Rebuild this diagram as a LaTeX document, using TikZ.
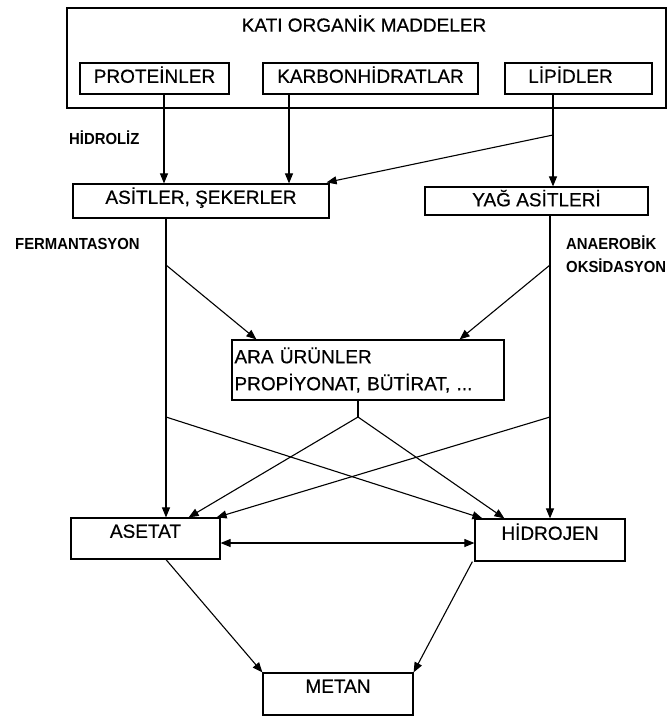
\documentclass[tikz,border=0pt]{standalone}
\usepackage{fontspec}
\setmainfont{Liberation Sans}[FakeBold=0.5,BoldFont={Liberation Sans Bold}]
\newfontfamily\lblfont{Liberation Sans Bold}[FakeStretch=0.93]
\usetikzlibrary{arrows.meta,calc}
\begin{document}
\begin{tikzpicture}[x=1pt,y=-1pt,
  box/.style={draw,line width=1.2pt,rectangle,inner sep=0pt,font=\fontsize{19}{22}\selectfont,text height=13.6pt},
  lbl/.style={inner sep=0pt,font=\lblfont\fontsize{16}{23}\selectfont,align=left},
  arr/.style={line width=1.1pt,-{Triangle[length=10pt,width=8pt]}},
  arrb/.style={line width=1.1pt,{Triangle[length=10pt,width=8pt]}-{Triangle[length=10pt,width=8pt]}},
  ln/.style={line width=1.1pt}]
\useasboundingbox (0,0) rectangle (672,716);
% boxes
\node[box,minimum width=599pt,minimum height=100pt] (outer) at (366.5,58) {};
\node[font=\fontsize{19}{22}\selectfont,inner sep=0pt] (title) at (364,23.5) {KATI ORGANİK MADDELER};
\node[box,minimum width=149pt,minimum height=31pt,text depth=5pt] (prot) at (154.5,78.5) {PROTEİNLER};
\node[box,minimum width=215pt,minimum height=31pt,text depth=5pt] (karb) at (370.5,78.5) {KARBONHİDRATLAR};
\node[box,minimum width=147pt,minimum height=31pt,text depth=5pt] (lip) at (578.5,78.5) {\hspace*{-16pt}LİPİDLER};
\node[box,minimum width=256pt,minimum height=34pt,text depth=8pt] (asit) at (201,201) {ASİTLER, ŞEKERLER};
\node[box,minimum width=223pt,minimum height=28pt,text depth=3pt] (yag) at (536.5,201) {YAĞ ASİTLERİ};
\node[draw,line width=1.2pt,rectangle,inner sep=0pt,minimum width=272pt,minimum height=60pt,text width=267pt,align=left,font=\fontsize{19}{27}\selectfont] (ara) at (368,370) {ARA ÜRÜNLER\\PROPİYONAT, BÜTİRAT, ...};
\node[box,minimum width=149pt,minimum height=41pt,text depth=15pt] (ase) at (145.5,538.5) {ASETAT};
\node[box,minimum width=150pt,minimum height=42pt,text depth=14pt] (hid) at (550,540) {HİDROJEN};
\node[box,minimum width=150pt,minimum height=42pt,text depth=16pt] (met) at (338,694) {METAN};
% labels
\node[lbl,anchor=west] (hidro) at (69,138) {HİDROLİZ};
\node[lbl,anchor=west] (ferm) at (15,244) {FERMANTASYON};
\node[lbl,anchor=north west] (anae) at (566,236) {ANAEROBİK\\OKSİDASYON};
% x positions
\coordinate (xp) at (164,0);
\coordinate (xk) at (289,0);
\coordinate (xl) at (553,0);
\coordinate (xa) at (166,0);
\coordinate (xy) at (550,0);
\coordinate (xm) at (358,0);
\coordinate (yd) at (0,543);
% junctions
\coordinate (jl) at (553,135);
\coordinate (jf) at (166,265);
\coordinate (jo) at (550,265);
\coordinate (jc1) at (166,417);
\coordinate (jc2) at (550,417);
\coordinate (jm) at (358,417);
% hydrolysis
\draw[arr] (prot.south -| xp) -- (asit.north -| xp);
\draw[arr] (karb.south -| xk) -- (asit.north -| xk);
\draw[arr] (lip.south -| xl) -- (yag.north -| xl);
\draw[arr] (jl) -- ($(asit.north east)+(-3,-1)$);
% main verticals
\draw[arr] (asit.south -| xa) -- (ase.north -| xa);
\draw[arr] (yag.south -| xy) -- (hid.north -| xy);
\draw[arr] (jf) -- ($(ara.north west)+(25,0)$);
\draw[arr] (jo) -- ($(ara.north east)+(-45,0)$);
% from intermediates
\draw[ln] (ara.south -| xm) -- (jm);
\draw[arr] (jm) -- ($(ase.north east)+(-32,0)$);
\draw[arr] (jm) -- ($(hid.north west)+(30,0)$);
\draw[arr] (jc1) -- ($(hid.north west)+(8,0)$);
\draw[arr] (jc2) -- ($(ase.north east)+(-4,0)$);
% acetate - hydrogen
\draw[arrb] (ase.east |- yd) -- (hid.west |- yd);
% methane
\draw[arr] (ase.south -| xa) -- (met.north west);
\draw[arr] ($(hid.south west)+(-2,0)$) -- (met.north east);
\end{tikzpicture}
\end{document}
